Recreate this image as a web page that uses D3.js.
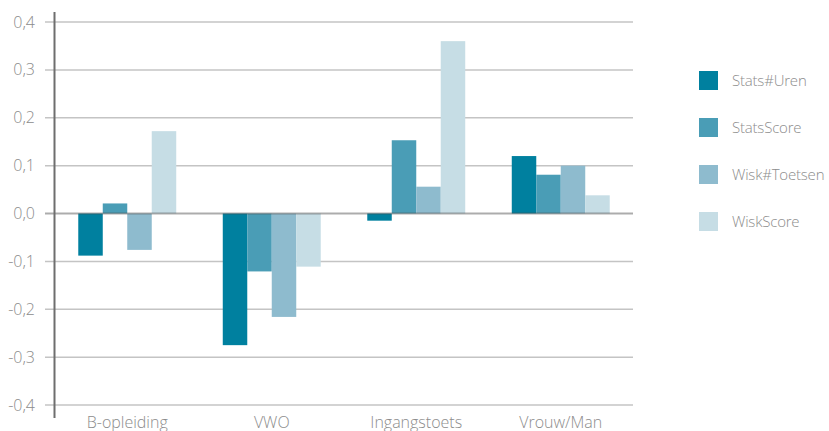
<!DOCTYPE html>
<html><head><meta charset="utf-8">
<script src="https://cdn.jsdelivr.net/npm/d3@7"></script>
<style>
html,body{margin:0;padding:0;background:#fff;}
svg{display:block;}
text{font-family:"Open Sans",sans-serif;font-weight:300;fill:#8c8c8c;}
</style></head><body>
<svg id="chart" width="829" height="431"></svg>
<script>
const categories = ["B-opleiding", "VWO", "Ingangstoets", "Vrouw/Man"];
const seriesNames = ["Stats#Uren", "StatsScore", "Wisk#Toetsen", "WiskScore"];
const statsUren   = [-0.088, -0.275, -0.015, 0.120];
const statsScore  = [0.021, -0.121, 0.153, 0.081];
const wiskToetsen = [-0.076, -0.216, 0.056, 0.100];
const wiskScore   = [0.172, -0.111, 0.360, 0.038];
const yTicks = [-0.4, -0.3, -0.2, -0.1, 0, 0.1, 0.2, 0.3, 0.4];
const colors = ["#00809f", "#4a9db6", "#8ebbce", "#c6dde5"];

(function(){
const seriesValues = [statsUren, statsScore, wiskToetsen, wiskScore];
const data = categories.map((c, i) => ({cat: c, vals: seriesNames.map((s, j) => ({s, v: seriesValues[j][i], j}))}));

const svg = d3.select("#chart");
const mLeft = 55, mRight = 633, mTop = 22, mBottom = 405;

const y = d3.scaleLinear().domain([-0.4, 0.4]).range([mBottom, mTop]);
const x0 = d3.scaleBand().domain(categories).range([mLeft, mRight]).paddingInner(0.322).paddingOuter(0.161);
const x1 = d3.scaleBand().domain(seriesNames).range([0, x0.bandwidth()]);
const color = d3.scaleOrdinal().domain(seriesNames).range(colors);
const fmt = v => d3.format(".1f")(v).replace(".", ",").replace("−", "-");

// gridlines
svg.append("g").selectAll("line").data(yTicks.filter(t => t !== 0)).join("line")
  .attr("x1", 45).attr("x2", mRight)
  .attr("y1", d => y(d)).attr("y2", d => y(d))
  .attr("stroke", "#c4c4c4").attr("stroke-width", 1.5);

// y tick labels
svg.append("g").selectAll("text").data(yTicks).join("text")
  .attr("x", 35).attr("y", d => y(d)).attr("dy", "0.35em")
  .attr("text-anchor", "end").attr("font-size", 16)
  .text(fmt);

// bars
svg.append("g").selectAll("g").data(data).join("g")
  .attr("transform", d => `translate(${x0(d.cat)},0)`)
  .selectAll("rect").data(d => d.vals).join("rect")
  .attr("x", d => x1(d.s)).attr("width", x1.bandwidth())
  .attr("y", d => y(Math.max(0, d.v)))
  .attr("height", d => Math.abs(y(d.v) - y(0)))
  .attr("fill", d => color(d.s));

// zero line
svg.append("line").attr("x1", 45).attr("x2", mRight)
  .attr("y1", y(0)).attr("y2", y(0))
  .attr("stroke", "rgba(70,70,70,0.45)").attr("stroke-width", 2);

// y axis line
svg.append("line").attr("x1", mLeft - 0.5).attr("x2", mLeft - 0.5)
  .attr("y1", 12).attr("y2", 418)
  .attr("stroke", "#6e6e6e").attr("stroke-width", 2);

// category labels
svg.append("g").selectAll("text").data(categories).join("text")
  .attr("x", d => x0(d) + x0.bandwidth() / 2).attr("y", 428)
  .attr("text-anchor", "middle").attr("font-size", 16)
  .text(d => d);

// legend
const lg = svg.append("g").selectAll("g").data(seriesNames).join("g")
  .attr("transform", (d, i) => `translate(699,${71 + i * 47})`);
lg.append("rect").attr("width", 19).attr("height", 19).attr("fill", d => color(d));
lg.append("text").attr("x", 33).attr("y", 9.5).attr("dy", "0.35em")
  .attr("font-size", 15).attr("letter-spacing", -0.2).text(d => d);
})();
</script>
</body></html>
